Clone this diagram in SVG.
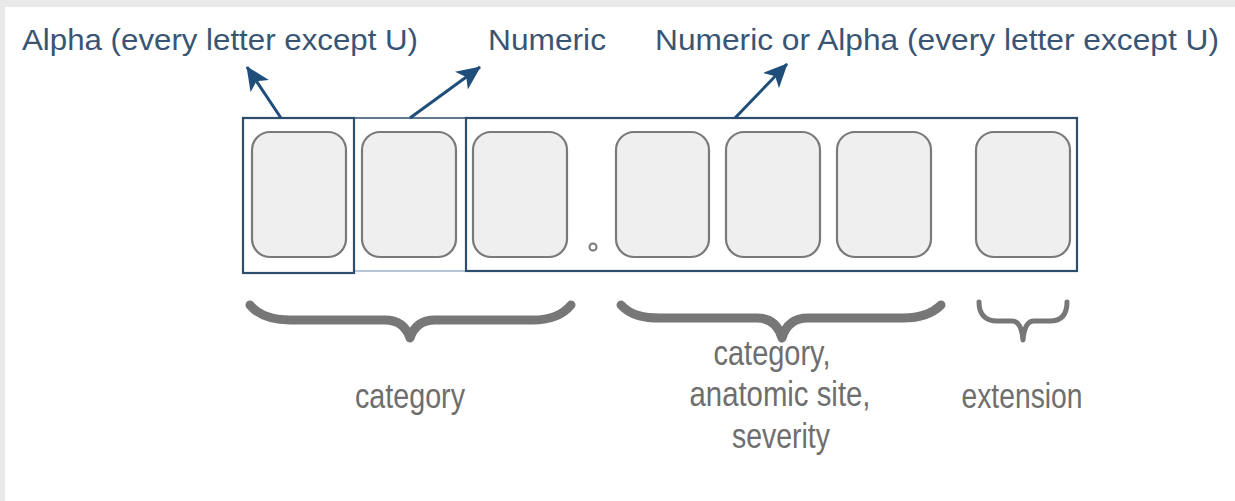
<svg xmlns="http://www.w3.org/2000/svg" width="1235" height="501" viewBox="0 0 1235 501">
  <style>
    .top { font-family: "Liberation Sans", Arial, sans-serif; font-size: 30px; fill: #3a5574; }
    .bot { font-family: "Liberation Sans", Arial, sans-serif; font-size: 35px; fill: #6e6e6e; text-anchor: middle; }
    .cell { fill: #efefef; stroke: #7a7a7a; stroke-width: 2.2; }
    .frame { fill: none; stroke: #2e4c6c; stroke-width: 2.2; }
    .arrow { stroke: #1f4e7a; stroke-width: 3; fill: none; marker-end: url(#head); }
    .brace { fill: none; stroke: #777777; stroke-linecap: round; stroke-linejoin: round; }
  </style>
  <defs>
    <marker id="head" markerUnits="userSpaceOnUse" viewBox="0 0 24 22" refX="23" refY="11" markerWidth="24" markerHeight="22" orient="auto">
      <path d="M0,0 L24,11 L0,22 L6,11 z" fill="#1f4e7a"/>
    </marker>
  </defs>
  <rect x="0" y="0" width="1235" height="501" fill="#ffffff"/>
  <rect x="0" y="0" width="1235" height="7" fill="#e9e9e9"/>
  <rect x="0" y="0" width="5" height="501" fill="#e9e9e9"/>

  <g id="labels-top">
    <text class="top" x="22" y="50" textLength="396" lengthAdjust="spacingAndGlyphs">Alpha (every letter except U)</text>
    <text class="top" x="488" y="50" textLength="118" lengthAdjust="spacingAndGlyphs">Numeric</text>
    <text class="top" x="655" y="50" textLength="564" lengthAdjust="spacingAndGlyphs">Numeric or Alpha (every letter except U)</text>
  </g>

  <g id="frame">
    <line x1="353" y1="118" x2="466" y2="118" stroke="#2e4c6c" stroke-width="1.6"/>
    <line x1="353" y1="271" x2="466" y2="271" stroke="#9fb4c9" stroke-width="1.6"/>
    <rect class="frame" x="243" y="118" width="111" height="155"/>
    <rect class="frame" x="466" y="118" width="611" height="153"/>
  </g>

  <g id="cells">
    <g id="cell1"><rect class="cell" x="252" y="132" width="94" height="125" rx="18"/></g>
    <g id="cell2"><rect class="cell" x="362" y="132" width="94" height="125" rx="18"/></g>
    <g id="cell3"><rect class="cell" x="473" y="132" width="94" height="125" rx="18"/></g>
    <g id="dot"><circle cx="593" cy="247" r="3.5" fill="#ffffff" stroke="#777777" stroke-width="2"/></g>
    <g id="cell4"><rect class="cell" x="616" y="132" width="93" height="125" rx="18"/></g>
    <g id="cell5"><rect class="cell" x="726" y="132" width="94" height="125" rx="18"/></g>
    <g id="cell6"><rect class="cell" x="837" y="132" width="94" height="125" rx="18"/></g>
    <g id="cell7"><rect class="cell" x="976" y="132" width="94" height="125" rx="18"/></g>
  </g>

  <g id="connectors">
    <line class="arrow" x1="281" y1="118" x2="247" y2="67"/>
    <line class="arrow" x1="410" y1="118" x2="480" y2="67"/>
    <line class="arrow" x1="735" y1="118" x2="787" y2="64"/>
  </g>

  <g id="braces">
    <path class="brace" stroke-width="9" d="M250,305 C260,317 274,320 290,320 L385,320 C398,320 406,326 410,338 C414,326 422,320 435,320 L533,320 C550,320 562,316 571,305"/>
    <path class="brace" stroke-width="9" d="M621,305 C631,316 645,318 660,318 L757,318 C769,318 778,324 782,338 C786,324 795,318 808,318 L903,318 C920,318 932,314 941,305"/>
    <path class="brace" stroke-width="5" d="M979,302 C979,314 985,321 997,321 L1012,321 C1018,321 1022,328 1023,340 C1024,328 1028,321 1034,321 L1050,321 C1062,321 1067,314 1067,302"/>
  </g>

  <g id="labels-bottom">
    <text class="bot" x="410" y="408" textLength="110" lengthAdjust="spacingAndGlyphs">category</text>
    <text class="bot" x="772" y="365" textLength="117" lengthAdjust="spacingAndGlyphs">category,</text>
    <text class="bot" x="780" y="406" textLength="181" lengthAdjust="spacingAndGlyphs">anatomic site,</text>
    <text class="bot" x="781" y="448" textLength="98" lengthAdjust="spacingAndGlyphs">severity</text>
    <text class="bot" x="1022" y="408" textLength="121" lengthAdjust="spacingAndGlyphs">extension</text>
  </g>
</svg>
